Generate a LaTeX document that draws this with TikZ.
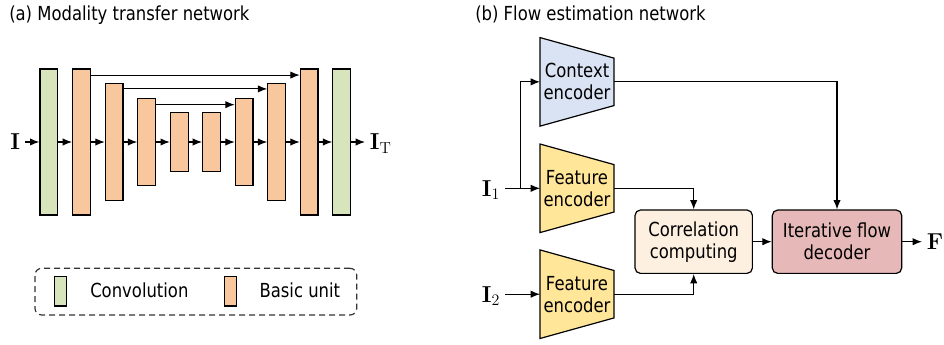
\documentclass[tikz,border=0pt]{standalone}
\usepackage[no-math]{fontspec}
\newfontfamily\labelfont[FakeStretch=0.85]{DejaVu Sans}
\usetikzlibrary{arrows.meta,backgrounds}

\definecolor{convgreen}{HTML}{D8E4BC}
\definecolor{unitorange}{HTML}{F8C79D}
\definecolor{ctxblue}{HTML}{DAE3F3}
\definecolor{featyellow}{HTML}{FFE699}
\definecolor{corrcream}{HTML}{FDF0E0}
\definecolor{decpink}{HTML}{E6B8B7}

\begin{document}
\begin{tikzpicture}[
  x=0.75pt, y=-0.75pt,
  blk/.style={draw, line width=0.9pt, minimum width=13.3pt, inner sep=0pt},
  conv/.style={blk, fill=convgreen, minimum height=109.5pt},
  unit/.style={blk, fill=unitorange},
  enc/.style={minimum width=55pt, minimum height=66pt, inner sep=0pt,
              font=\labelfont\fontsize{14.5}{16.5}\selectfont, align=center},
  rbox/.style={draw, line width=0.9pt, rounded corners=4pt, minimum height=47.5pt,
               font=\labelfont\fontsize{14.5}{16.5}\selectfont, align=center},
  txt/.style={font=\labelfont\fontsize{14.5}{16.5}\selectfont, inner sep=0pt},
  sym/.style={font=\fontsize{18}{20}\selectfont, inner sep=3.5pt},
  arr/.style={-{Latex[length=7pt,width=5.5pt]}, line width=0.85pt}
]
  \useasboundingbox (0,0) rectangle (944,344);

  % (a) modality transfer network
  \node[txt, anchor=base west] (titlea) at (9,20) {(a) Modality transfer network};

  \node[conv] (c1) at (48.8,142) {};
  \node[unit, minimum height=109.5pt] (u1) at (81.5,142) {};
  \node[unit, minimum height=87.75pt] (u2) at (114.2,142) {};
  \node[unit, minimum height=65.5pt]  (u3) at (146.7,142) {};
  \node[unit, minimum height=44pt]    (u4) at (179.3,142) {};
  \node[unit, minimum height=44pt]    (u5) at (211.5,142) {};
  \node[unit, minimum height=65.5pt]  (u6) at (244.2,142) {};
  \node[unit, minimum height=87.75pt] (u7) at (276.7,142) {};
  \node[unit, minimum height=109.5pt] (u8) at (309.2,142) {};
  \node[conv] (c2) at (341.7,142) {};

  \node[sym, anchor=base east] (inI) at (25,149.8) {$\mathbf{I}$};
  \node[sym, anchor=base west] (outI) at (365,149.8) {$\mathbf{I}_\mathrm{T}$};

  \draw[arr] (inI.east |- c1) -- (c1);
  \draw[arr] (c1) -- (u1);
  \draw[arr] (u1) -- (u2);
  \draw[arr] (u2) -- (u3);
  \draw[arr] (u3) -- (u4);
  \draw[arr] (u4) -- (u5);
  \draw[arr] (u5) -- (u6);
  \draw[arr] (u6) -- (u7);
  \draw[arr] (u7) -- (u8);
  \draw[arr] (u8) -- (c2);
  \draw[arr] (c2) -- (outI.west |- c2);

  % skip connections
  \draw[arr] ([yshift=-5pt]u1.north east) -- ([yshift=-5pt]u8.north west);
  \draw[arr] ([yshift=-4.5pt]u2.north east) -- ([yshift=-4.5pt]u7.north west);
  \draw[arr] ([yshift=-5.2pt]u3.north east) -- ([yshift=-5.2pt]u6.north west);

  % legend
  \node[draw=black!80, line width=0.9pt, dashed, dash pattern=on 4.5pt off 3pt,
        rounded corners=5pt, minimum width=241.3pt, minimum height=35pt] (legend) at (195.85,291.65) {};
  \node[blk, fill=convgreen, minimum width=9pt, minimum height=22pt] (lconv) at (60.3,291.3) {};
  \node[txt, anchor=west] (lconvtxt) at (90,290) {Convolution};
  \node[blk, fill=unitorange, minimum width=9pt, minimum height=22pt] (lunit) at (230.3,291.3) {};
  \node[txt, anchor=west] (lunittxt) at (259.3,290) {Basic unit};

  % (b) flow estimation network
  \node[txt, anchor=base west] (titleb) at (475,20) {(b) Flow estimation network};

  \node[enc] (ctx) at (577,81.85) {Context\\encoder};
  \node[enc] (fe1) at (577,188.3) {Feature\\encoder};
  \node[enc] (fe2) at (577,294.2) {Feature\\encoder};

  \begin{scope}[on background layer]
    \draw[line width=0.9pt, fill=ctxblue] (ctx.north west) -- ([yshift=-15.4pt]ctx.north east)
      -- ([yshift=15.4pt]ctx.south east) -- (ctx.south west) -- cycle;
    \draw[line width=0.9pt, fill=featyellow] (fe1.north west) -- ([yshift=-15.4pt]fe1.north east)
      -- ([yshift=15.4pt]fe1.south east) -- (fe1.south west) -- cycle;
    \draw[line width=0.9pt, fill=featyellow] (fe2.north west) -- ([yshift=-15.4pt]fe2.north east)
      -- ([yshift=15.4pt]fe2.south east) -- (fe2.south west) -- cycle;
  \end{scope}

  \node[rbox, fill=corrcream, minimum width=88pt] (corr) at (693.7,241.7) {Correlation\\computing};
  \node[rbox, fill=decpink, minimum width=97pt] (dec) at (837,241.7) {Iterative flow\\decoder};

  \node[sym, anchor=base east] (in1) at (505,196) {$\mathbf{I}_1$};
  \node[sym, anchor=base east] (in2) at (505,302.5) {$\mathbf{I}_2$};
  \node[sym, anchor=west] (flow) at (922,241.7) {$\mathbf{F}$};
  \coordinate (split) at (520.7,188.3);

  \draw[arr] (in1.east |- fe1) -- (fe1.west);
  \draw[arr] (split) |- (ctx.west);
  \draw[arr] (in2.east |- fe2) -- (fe2.west);
  \draw[arr] (fe1.east) -| (corr.north);
  \draw[arr] (fe2.east) -| (corr.south);
  \draw[arr] (ctx.east) -| (dec.north);
  \draw[arr] (corr) -- (dec);
  \draw[arr] (dec) -- (flow);
\end{tikzpicture}
\end{document}
